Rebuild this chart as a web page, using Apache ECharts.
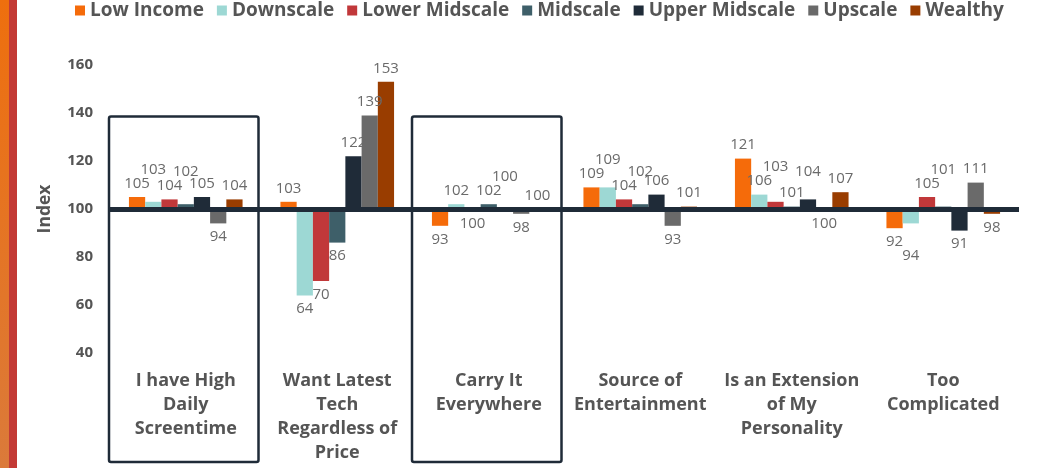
<!DOCTYPE html>
<html><head><meta charset="utf-8">
<script src="https://cdn.jsdelivr.net/npm/echarts@6/dist/echarts.min.js"></script>
<style>html,body{margin:0;padding:0;background:#fff}#c{width:1049px;height:468px}</style>
</head><body><div id="c"></div>
<script>
const categories = [
  'I have High\nDaily\nScreentime',
  'Want Latest\nTech\nRegardless of\nPrice',
  'Carry It\nEverywhere',
  'Source of\nEntertainment',
  'Is an Extension\nof My\nPersonality',
  'Too\nComplicated'
];
const seriesNames = ['Low Income','Downscale','Lower Midscale','Midscale','Upper Midscale','Upscale','Wealthy'];
const lowIncome     = [105, 103,  93, 109, 121,  92];
const downscale     = [103,  64, 102, 109, 106,  94];
const lowerMidscale = [104,  70, 99.6, 104, 103, 105];
const midscale      = [102,  86, 102, 102, 101, 101];
const upperMidscale = [105, 122, 100, 106, 104,  91];
const upscale       = [ 94, 139,  98,  93, 99.6, 111];
const wealthy       = [104, 153, 100, 101, 107,  98];
const yTicks = [40, 60, 80, 100, 120, 140, 160];
const baseline = 100;
const boxedCategories = [0, 2];
const boxTopValue = 138.5;

const colors = ['#F56B0A','#9DD8D4','#C1383A','#3E5F69','#1F2B38','#6A6A6A','#993D00'];
const allSeries = [lowIncome, downscale, lowerMidscale, midscale, upperMidscale, upscale, wealthy];
const FONT = '"Open Sans", Lato, sans-serif';
const LABEL_DIST = 6, LABEL_H = 14;

// label shifts (px), filled after first layout
const shifts = allSeries.map(a => a.map(() => 0));

const chart = echarts.init(document.getElementById('c'), null, {renderer: 'canvas'});
const series = allSeries.map((arr, i) => ({
  name: seriesNames[i],
  type: 'bar',
  barGap: '0%',
  barCategoryGap: '25%',
  itemStyle: {color: colors[i]},
  data: arr.map(v => ({
    value: v - baseline,
    label: {position: v >= baseline ? 'top' : 'bottom'}
  })),
  label: {
    show: true,
    distance: LABEL_DIST,
    color: '#6a6a6a',
    fontFamily: FONT,
    fontSize: 15,
    formatter: p => Math.round(p.value + baseline)
  },
  labelLayout: p => ({dy: shifts[p.seriesIndex][p.dataIndex]}),
  markLine: i === allSeries.length - 1 ? {
    silent: true,
    symbol: 'none',
    label: {show: false},
    lineStyle: {color: '#1F2B38', width: 5, type: 'solid'},
    data: [{yAxis: 0}],
    animation: false
  } : undefined
}));

const option = {
  animation: false,
  color: colors,
  legend: {
    top: -4,
    left: 70,
    icon: 'rect',
    itemWidth: 10,
    itemHeight: 10,
    itemGap: 13,
    textStyle: {fontFamily: FONT, fontWeight: 'bold', fontSize: 19, color: '#555'}
  },
  grid: {left: 110, right: 30, top: 65, bottom: 115},
  xAxis: {
    type: 'category',
    data: categories,
    axisLine: {show: false},
    axisTick: {show: false},
    axisLabel: {
      interval: 0,
      margin: 16,
      color: '#555',
      fontFamily: FONT,
      fontWeight: 'bold',
      fontSize: 18,
      lineHeight: 24
    }
  },
  yAxis: {
    type: 'value',
    min: yTicks[0] - baseline,
    max: yTicks[yTicks.length - 1] - baseline,
    interval: yTicks[1] - yTicks[0],
    name: 'Index',
    nameLocation: 'middle',
    nameGap: 56,
    nameTextStyle: {fontFamily: FONT, fontWeight: 'bold', fontSize: 17.5, color: '#555'},
    splitLine: {show: false},
    axisLine: {show: false},
    axisTick: {show: false},
    axisLabel: {
      margin: 17,
      color: '#555',
      fontFamily: FONT,
      fontWeight: 'bold',
      fontSize: 15,
      formatter: v => v + baseline
    }
  },
  series: series
};
chart.setOption(option);

// Stagger labels of adjacent bars that would collide
const pxPerUnit = Math.abs(chart.convertToPixel({yAxisIndex: 0}, 0) - chart.convertToPixel({yAxisIndex: 0}, 1));
categories.forEach((_, c) => {
  let prevOff = null, prevSide = null, prevShifted = false;
  allSeries.forEach((arr, i) => {
    const v = arr[c];
    const side = v >= baseline ? 1 : -1;
    let off = Math.abs(v - baseline) * pxPerUnit + LABEL_DIST;
    let shifted = false;
    if (prevSide === side && !prevShifted && Math.abs(off - prevOff) < LABEL_H) {
      const newOff = Math.max(off, prevOff) + LABEL_H;
      shifts[i][c] = -side * (newOff - off);
      off = newOff;
      shifted = true;
    }
    prevOff = off; prevSide = side; prevShifted = shifted;
  });
});

// Annotation boxes around highlighted categories + left stripe decoration
const p0 = chart.convertToPixel({xAxisIndex: 0}, 0);
const p1 = chart.convertToPixel({xAxisIndex: 0}, 1);
const band = p1 - p0;
const topY = chart.convertToPixel({yAxisIndex: 0}, boxTopValue - baseline);
const bottomY = chart.getHeight() - 6;
const graphics = boxedCategories.map(ci => {
  const cx = chart.convertToPixel({xAxisIndex: 0}, ci);
  const l = cx - band / 2 - 1, r = cx + band / 2 - 3;
  return {
    type: 'rect', z: 100,
    shape: {x: l, y: topY, width: r - l, height: bottomY - topY, r: 2},
    style: {fill: 'none', stroke: '#1F2B38', lineWidth: 2.5}
  };
});
graphics.push({
  type: 'rect', z: 100,
  shape: {x: 0, y: 0, width: 9, height: chart.getHeight()},
  style: {fill: new echarts.graphic.LinearGradient(0, 0, 0, 1, [
    {offset: 0, color: '#EE6F0E'}, {offset: 1, color: '#DB7A3A'}])}
});
graphics.push({
  type: 'rect', z: 100,
  shape: {x: 9, y: 0, width: 8, height: chart.getHeight()},
  style: {fill: '#C33A35'}
});
option.graphic = graphics;
chart.setOption(option, true);
</script>
</body></html>
